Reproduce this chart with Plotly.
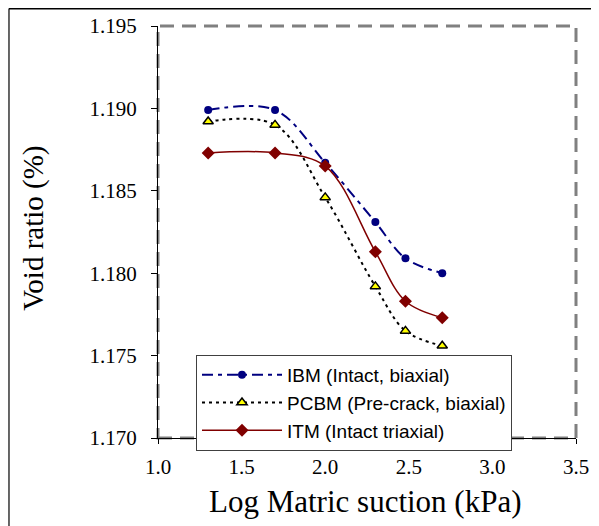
import plotly.graph_objects as go

x_vals = [1.30, 1.70, 2.00, 2.30, 2.48, 2.70]
ibm = [1.1899, 1.1899, 1.1867, 1.1831, 1.1809, 1.1800]
pcbm = [1.1892, 1.1890, 1.1846, 1.1792, 1.1765, 1.1756]
itm = [1.1873, 1.1873, 1.1865, 1.1813, 1.1783, 1.1773]

names = ["IBM (Intact, biaxial)", "PCBM (Pre-crack, biaxial)", "ITM (Intact triaxial)"]
x_title = "Log Matric suction (kPa)"
y_title = "Void ratio (%)"

fig = go.Figure()
fig.add_trace(go.Scatter(
    x=x_vals, y=ibm, name=names[0], mode="lines+markers",
    line=dict(color="#000080", width=2, dash="11px,5px,4px,5px", shape="spline", smoothing=1.0),
    marker=dict(symbol="circle", size=8, color="#000080"),
))
fig.add_trace(go.Scatter(
    x=x_vals, y=pcbm, name=names[1], mode="lines+markers",
    line=dict(color="black", width=2, dash="3px,4px", shape="spline", smoothing=1.0),
    marker=dict(symbol="triangle-up", size=9, color="#FFFF00", line=dict(color="black", width=1.5)),
))
fig.add_trace(go.Scatter(
    x=x_vals, y=itm, name=names[2], mode="lines+markers",
    line=dict(color="#800000", width=1.5, shape="spline", smoothing=1.0),
    marker=dict(symbol="diamond", size=10, color="#800000"),
))

serif = "Liberation Serif"
sans = "Liberation Sans"

# page has an 8px body margin; figure sized/offset to compensate
fig.update_layout(
    width=591, height=518,
    margin=dict(l=150, r=23, t=18, b=88, autoexpand=False),
    paper_bgcolor="white", plot_bgcolor="white",
    font=dict(family=serif, size=21, color="black"),
    showlegend=True,
    legend=dict(
        x=0.0909, y=0.2015, xanchor="left", yanchor="top",
        bgcolor="white", bordercolor="#404040", borderwidth=1,
        font=dict(family=sans, size=19, color="black"),
        itemwidth=80, tracegroupgap=0,
    ),
    xaxis=dict(
        range=[1.0, 3.5], dtick=0.5, tickformat=".1f",
        showgrid=False, zeroline=False, automargin=False,
        showline=True, linecolor="black", linewidth=1,
        ticks="outside", ticklen=5, tickcolor="black",
        ticklabelstandoff=5,
        tickfont=dict(family=serif, size=21, color="black"),
    ),
    yaxis=dict(
        range=[1.170, 1.195], dtick=0.005, tickformat=".3f",
        showgrid=False, zeroline=False, automargin=False,
        showline=True, linecolor="black", linewidth=1,
        ticks="outside", ticklen=6, tickcolor="black",
        ticklabelstandoff=10,
        tickfont=dict(family=serif, size=21, color="black"),
    ),
    annotations=[
        dict(text=x_title, xref="paper", yref="paper", x=0.4976, y=-0.155,
             xanchor="center", yanchor="middle", showarrow=False,
             font=dict(family=serif, size=31, color="black")),
        dict(text=y_title, xref="paper", yref="paper", x=-0.2967, y=0.51,
             xanchor="center", yanchor="middle", showarrow=False, textangle=-90,
             font=dict(family=serif, size=29, color="black")),
    ],
    shapes=[
        dict(type="rect", xref="paper", yref="paper", x0=0, x1=1, y0=0, y1=1,
             line=dict(color="#808080", width=3, dash="14px,8px"), layer="below"),
        dict(type="line", xref="paper", yref="paper", x0=-0.3565, x1=1.1, y0=1.0425, y1=1.0425,
             line=dict(color="black", width=2)),
        dict(type="line", xref="paper", yref="paper", x0=-0.3565, x1=-0.3565, y0=1.0425, y1=-0.3,
             line=dict(color="black", width=1.2)),
    ],
)

fig.write_html("out.html")
